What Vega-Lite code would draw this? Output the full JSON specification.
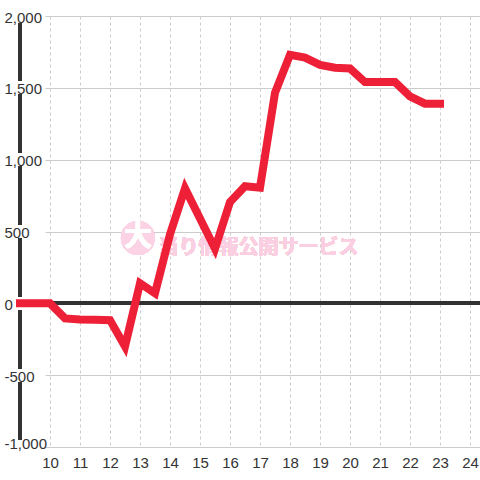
{
  "$schema": "https://vega.github.io/schema/vega-lite/v6.json",
  "width": 435,
  "height": 431,
  "autosize": "none",
  "padding": {"left": 45, "top": 16, "right": 0, "bottom": 33},
  "background": "white",
  "config": {
    "view": {"stroke": null},
    "axis": {"labelOverlap": false, "labelFlush": false, "title": null},
    "axisX": {"labelOverlap": false, "labelFlush": false, "tickCount": 15},
    "axisY": {"labelOverlap": false, "labelFlush": false}
  },
  "data": {
    "values": [
      {"t": 9, "v": 0}, {"t": 9.5, "v": 0}, {"t": 10, "v": 0},
      {"t": 10.5, "v": -105}, {"t": 11, "v": -112}, {"t": 11.5, "v": -115},
      {"t": 12, "v": -117}, {"t": 12.5, "v": -300}, {"t": 13, "v": 140},
      {"t": 13.5, "v": 70}, {"t": 14, "v": 480}, {"t": 14.5, "v": 800},
      {"t": 15, "v": 590}, {"t": 15.5, "v": 380}, {"t": 16, "v": 705},
      {"t": 16.5, "v": 815}, {"t": 17, "v": 805}, {"t": 17.5, "v": 1465},
      {"t": 18, "v": 1730}, {"t": 18.5, "v": 1710}, {"t": 19, "v": 1660},
      {"t": 19.5, "v": 1640}, {"t": 20, "v": 1635}, {"t": 20.5, "v": 1540},
      {"t": 21, "v": 1540}, {"t": 21.5, "v": 1540}, {"t": 22, "v": 1440},
      {"t": 22.5, "v": 1390}, {"t": 23, "v": 1390}
    ]
  },
  "layer": [
    {
      "mark": {"type": "rule", "color": "#333333", "strokeWidth": 3, "strokeDash": [0, 7, 57.833, 7], "strokeCap": "butt"},
      "encoding": {
        "x": {
          "datum": 9, "type": "quantitative",
          "scale": {"domain": [9.8333, 24.3333], "nice": false, "zero": false},
          "axis": {
            "title": null,
            "values": [10, 11, 12, 13, 14, 15, 16, 17, 18, 19, 20, 21, 22, 23, 24],
            "format": "d",
            "grid": true, "gridColor": "#cccccc", "gridDash": [3, 3], "gridWidth": 1,
            "domain": false, "ticks": false, "tickSize": 0,
            "labelPadding": 8, "labelFontSize": 15, "labelFont": "Liberation Sans",
            "labelColor": "#333333", "labelFlush": false, "labelOverlap": false
          }
        },
        "y": {"datum": 2000, "type": "quantitative"},
        "y2": {"datum": -1000}
      }
    },
    {
      "mark": {"type": "rule", "color": "#333333", "strokeWidth": 3},
      "encoding": {"y": {"datum": 0, "type": "quantitative"}}
    },
    {
      "mark": {"type": "point", "shape": "circle", "filled": true, "color": "#fbd3e4", "opacity": 1, "size": 1150},
      "encoding": {
        "x": {"datum": 12.93, "type": "quantitative"},
        "y": {"datum": 455, "type": "quantitative"}
      }
    },
    {
      "mark": {"type": "text", "text": "大", "font": "Noto Sans CJK JP", "fontWeight": "bold", "fontSize": 28, "color": "white", "align": "center", "baseline": "middle"},
      "encoding": {
        "x": {"datum": 12.93, "type": "quantitative"},
        "y": {"datum": 455, "type": "quantitative"}
      }
    },
    {
      "mark": {"type": "text", "text": "当り情報公開サービス", "font": "Noto Sans CJK JP", "fontWeight": "bold", "fontSize": 20, "color": "#fbcfe2", "align": "center", "baseline": "middle"},
      "encoding": {
        "x": {"datum": 16.95, "type": "quantitative"},
        "y": {"datum": 385, "type": "quantitative"}
      }
    },
    {
      "mark": {"type": "line", "color": "#ee2038", "strokeWidth": 8, "strokeCap": "square", "strokeJoin": "miter"},
      "encoding": {
        "x": {
          "field": "t", "type": "quantitative",
          "scale": {"domain": [9.8333, 24.3333], "nice": false, "zero": false},
          "axis": {
            "title": null,
            "values": [10, 11, 12, 13, 14, 15, 16, 17, 18, 19, 20, 21, 22, 23, 24],
            "format": "d",
            "grid": true, "gridColor": "#cccccc", "gridDash": [3, 3], "gridWidth": 1,
            "domain": false, "ticks": false, "tickSize": 0,
            "labelPadding": 8, "labelFontSize": 15, "labelFont": "Liberation Sans",
            "labelColor": "#333333", "labelFlush": false, "labelOverlap": false
          }
        },
        "y": {
          "field": "v", "type": "quantitative",
          "scale": {"domain": [-1000, 2000], "nice": false, "zero": false},
          "axis": {
            "title": null,
            "values": [-1000, -750, -500, -250, 0, 250, 500, 750, 1000, 1250, 1500, 1750, 2000],
            "labelExpr": "datum.value % 500 === 0 ? replace(format(datum.value, ','), '−', '-') : ''",
            "grid": true, "gridColor": "#cccccc", "gridWidth": 1,
            "domain": false, "ticks": false, "tickSize": 0,
            "labelPadding": 41, "labelAlign": "left",
            "labelBaseline": {"condition": {"test": "datum.value === -1000", "value": "alphabetic"}, "value": "middle"},
            "labelOffset": 1,
            "labelFontSize": 15, "labelFont": "Liberation Sans",
            "labelColor": "#333333", "labelFlush": false, "labelOverlap": false
          }
        }
      }
    }
  ]
}
